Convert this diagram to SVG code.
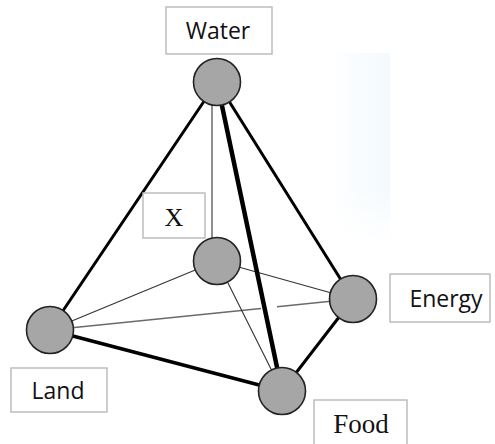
<svg xmlns="http://www.w3.org/2000/svg" width="495" height="444" viewBox="0 0 495 444">
<defs>
<linearGradient id="tint" x1="0" y1="0" x2="1" y2="0">
<stop offset="0" stop-color="#ffffff"/>
<stop offset="0.5" stop-color="#f8fcfe"/>
<stop offset="1" stop-color="#f3f9fd"/>
</linearGradient>
<linearGradient id="fade" x1="0" y1="0" x2="0" y2="1">
<stop offset="0" stop-color="#ffffff" stop-opacity="0"/>
<stop offset="0.7" stop-color="#ffffff" stop-opacity="0"/>
<stop offset="1" stop-color="#ffffff" stop-opacity="1"/>
</linearGradient>
<style>
.box{fill:#ffffff;stroke:#bdbdbd;stroke-width:1.5}
.node{fill:#a6a6a6;stroke:#222222;stroke-width:1.6}
.sans{font-family:"Open Sans","Liberation Sans",sans-serif;font-size:23px;fill:#111111;text-anchor:middle}
.serif{font-family:"Liberation Serif","Times New Roman",serif;fill:#111111;text-anchor:middle}
.thick{stroke:#000000;fill:none;stroke-linecap:round}
.thin{stroke:#333333;stroke-width:1.1;fill:none}
.faint{stroke:#6a6a6a;stroke-width:1.5;fill:none}
</style>
</defs>
<rect width="495" height="444" fill="#ffffff"/>
<rect x="330" y="53" width="60" height="190" fill="url(#tint)"/>
<rect x="330" y="53" width="60" height="190" fill="url(#fade)"/>
<g id="connectors">
<line class="faint" x1="50" y1="330" x2="261" y2="308.4"/>
<line class="faint" x1="277" y1="306.8" x2="353" y2="299"/>
<line class="thin" x1="212" y1="100" x2="212" y2="240"/>
<line class="thin" x1="217" y1="261" x2="50" y2="330"/>
<line class="thin" x1="217" y1="261" x2="353" y2="299"/>
<line class="thin" x1="217" y1="261" x2="282" y2="391"/>
<line class="thick" stroke-width="3" x1="217" y1="82" x2="50" y2="330"/>
<line class="thick" stroke-width="3" x1="217" y1="82" x2="353" y2="299"/>
<line class="thick" stroke-width="4.5" x1="217" y1="82" x2="282" y2="391"/>
<line class="thick" stroke-width="3.5" x1="50" y1="330" x2="282" y2="391"/>
<line class="thick" stroke-width="3" x1="353" y1="299" x2="282" y2="391"/>
</g>
<g id="water">
<rect class="box" x="166" y="7" width="106" height="47"/>
<text class="sans" x="218" y="39">Water</text>
<circle class="node" cx="217" cy="82" r="23.5"/>
</g>
<g id="x">
<rect class="box" x="143" y="193" width="62" height="45"/>
<text class="serif" font-size="26" x="174" y="226">X</text>
<circle class="node" cx="217" cy="261" r="23.5"/>
</g>
<g id="energy">
<rect class="box" x="390" y="274" width="100" height="48"/>
<text class="sans" x="446" y="307">Energy</text>
<circle class="node" cx="353" cy="299" r="23.5"/>
</g>
<g id="land">
<rect class="box" x="11" y="368" width="96" height="44"/>
<text class="sans" x="58" y="399">Land</text>
<circle class="node" cx="50" cy="330" r="23.5"/>
</g>
<g id="food">
<rect class="box" x="314" y="400" width="93" height="50"/>
<text class="serif" font-size="27" x="361" y="433">Food</text>
<circle class="node" cx="282" cy="391" r="23.5"/>
</g>
</svg>
